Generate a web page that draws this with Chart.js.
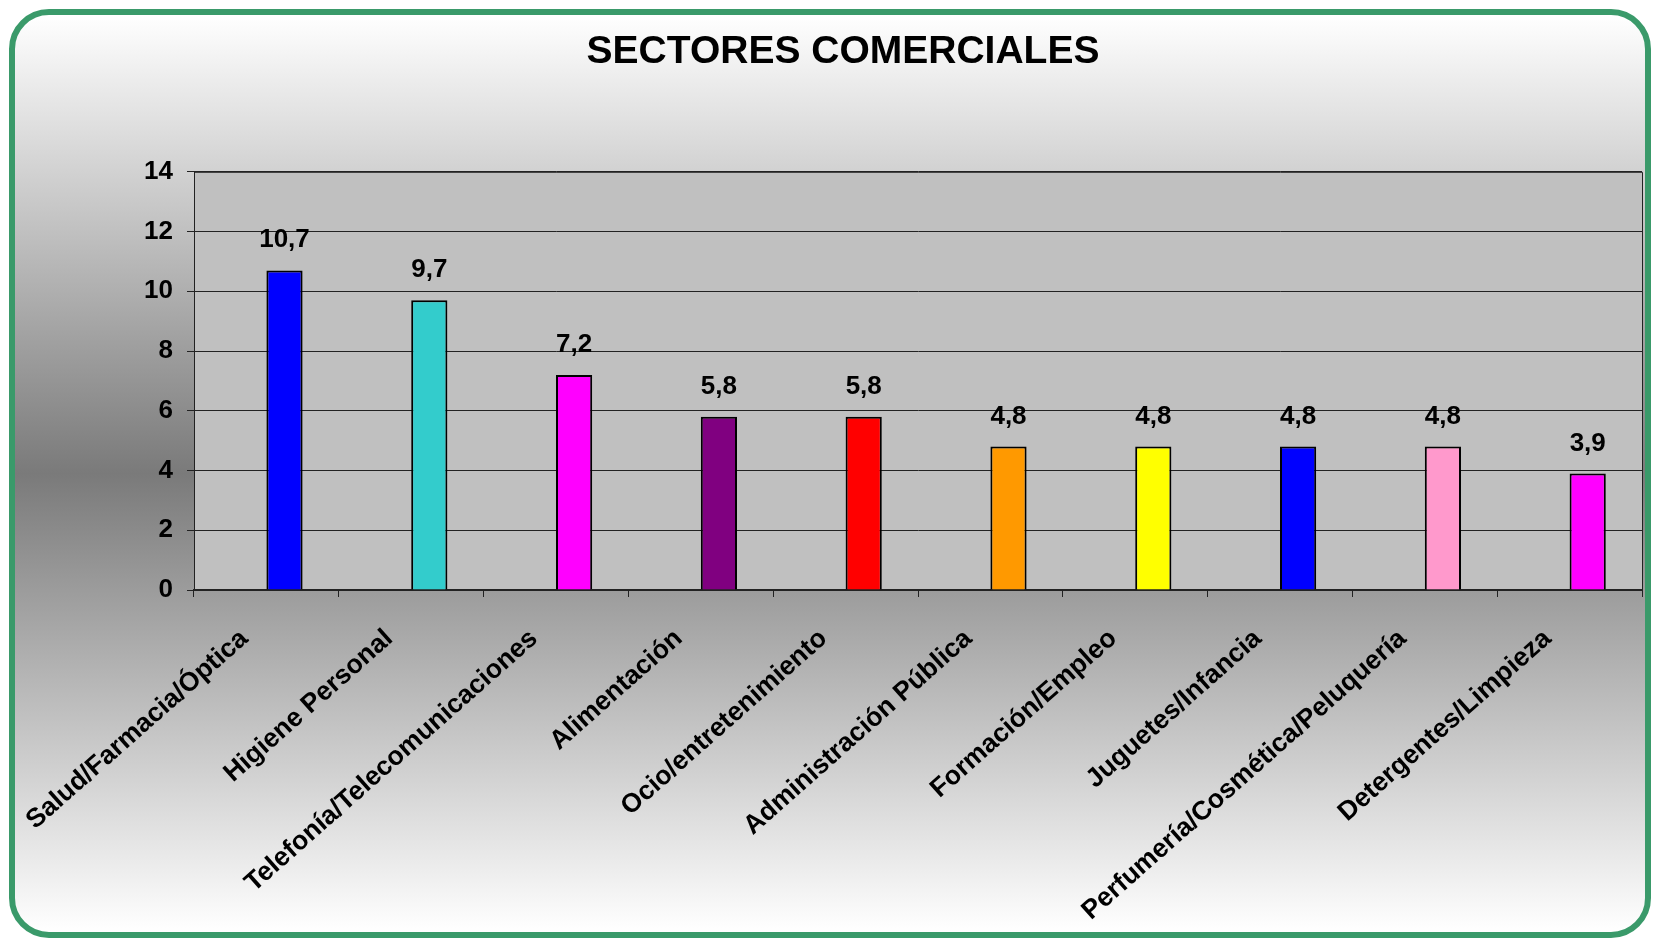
<!DOCTYPE html>
<html>
<head>
<meta charset="utf-8">
<script src="https://cdn.jsdelivr.net/npm/chart.js@4.4.0/dist/chart.umd.min.js"></script>
<style>
html, body { margin: 0; padding: 0; width: 1655px; height: 942px; overflow: hidden; background: #ffffff; }
#frame {
  position: absolute; left: 9px; top: 9px; width: 1630px; height: 917px;
  border: 6px solid #3a9a6a; border-radius: 40px;
  background: linear-gradient(to bottom, #ffffff 0%, #7a7a7a 50%, #ffffff 100%);
}
#c { position: absolute; left: 0; top: 0; }
</style>
</head>
<body>
<div id="frame"></div>
<canvas id="c" width="1655" height="942"></canvas>
<script>
const categories = [
  'Salud/Farmacia/Óptica',
  'Higiene Personal',
  'Telefonía/Telecomunicaciones',
  'Alimentación',
  'Ocio/entretenimiento',
  'Administración Pública',
  'Formación/Empleo',
  'Juguetes/Infancia',
  'Perfumería/Cosmética/Peluquería',
  'Detergentes/Limpieza'
];
const values = [10.7, 9.7, 7.2, 5.8, 5.8, 4.8, 4.8, 4.8, 4.8, 3.9];
const emptySeries = [null, null, null, null, null, null, null, null, null, null];
const barColors = ['#0000ff', '#33cccc', '#ff00ff', '#800080', '#ff0000', '#ff9900', '#ffff00', '#0000ff', '#ff99cc', '#ff00ff'];
const yMin = 0, yMax = 14, yStep = 2;
const titleText = 'SECTORES COMERCIALES';

const FONT = '"Liberation Sans", Arial, sans-serif';

const plotAreaPlugin = {
  id: 'plotArea',
  beforeDraw(chart) {
    const { ctx, chartArea: a } = chart;
    ctx.save();
    ctx.fillStyle = '#c0c0c0';
    ctx.fillRect(a.left, a.top, a.right - a.left, a.bottom - a.top);
    ctx.restore();
  },
  afterDraw(chart) {
    const { ctx, chartArea: a } = chart;
    ctx.save();
    ctx.strokeStyle = '#222222';
    ctx.lineWidth = 1;
    ctx.beginPath();
    ctx.moveTo(a.left, a.top + 0.5);
    ctx.lineTo(a.right + 0.5, a.top + 0.5);
    ctx.lineTo(a.right + 0.5, a.bottom);
    ctx.stroke();
    ctx.restore();
  }
};

const dataLabelPlugin = {
  id: 'dataLabels',
  afterDatasetsDraw(chart) {
    const ctx = chart.ctx;
    const meta = chart.getDatasetMeta(1);
    const data = chart.data.datasets[1].data;
    ctx.save();
    ctx.font = 'bold 26px ' + FONT;
    ctx.fillStyle = '#000000';
    ctx.textAlign = 'center';
    ctx.textBaseline = 'alphabetic';
    meta.data.forEach((bar, i) => {
      ctx.fillText(String(data[i]).replace('.', ','), bar.x, bar.y - 23);
    });
    ctx.restore();
  }
};

new Chart(document.getElementById('c'), {
  type: 'bar',
  data: {
    labels: categories,
    datasets: [
      { data: emptySeries, backgroundColor: 'rgba(0,0,0,0)', borderWidth: 0, categoryPercentage: 0.5, barPercentage: 1 },
      { data: values, backgroundColor: barColors, borderColor: '#000000', borderWidth: 2, categoryPercentage: 0.5, barPercentage: 1 }
    ]
  },
  options: {
    responsive: false,
    animation: false,
    devicePixelRatio: 1,
    layout: { padding: { left: 44, right: 13, top: 10, bottom: 0 } },
    plugins: {
      legend: { display: false },
      tooltip: { enabled: false },
      title: {
        display: true,
        text: titleText,
        color: '#000000',
        font: { family: FONT, size: 39, weight: 'bold' },
        padding: { top: 19, bottom: 96 }
      }
    },
    scales: {
      x: {
        grid: { offset: true, drawOnChartArea: false, drawTicks: true, tickLength: 7, color: '#222222', lineWidth: 1 },
        border: { color: '#222222', width: 2 },
        ticks: {
          autoSkip: false, minRotation: 41.5, maxRotation: 41.5,
          padding: 26, labelOffset: -22,
          color: '#000000',
          font: { family: FONT, size: 26.5, weight: 'bold' }
        },
        afterFit(scale) { scale.height = 352; scale.paddingLeft = 0; scale.paddingRight = 0; }
      },
      y: {
        min: yMin, max: yMax,
        grid: { color: '#222222', lineWidth: 1, tickLength: 7, drawTicks: true },
        border: { color: '#222222', width: 1 },
        ticks: {
          stepSize: yStep, padding: 14,
          color: '#000000',
          font: { family: FONT, size: 26, weight: 'bold' }
        },
        afterFit(scale) { scale.width = 150; }
      }
    }
  },
  plugins: [plotAreaPlugin, dataLabelPlugin]
});
</script>
</body>
</html>
